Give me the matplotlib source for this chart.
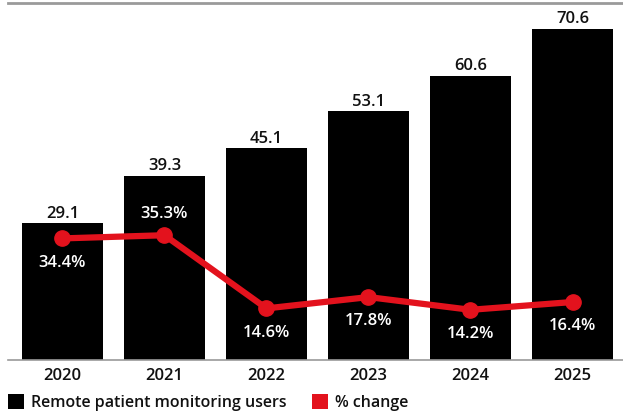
import matplotlib
matplotlib.use("Agg")
import matplotlib.pyplot as plt
from matplotlib.patches import Patch

years = ["2020", "2021", "2022", "2023", "2024", "2025"]
users = [29.1, 39.3, 45.1, 53.1, 60.6, 70.6]
pct_change = [34.4, 35.3, 14.6, 17.8, 14.2, 16.4]
pct_labels = ["34.4%", "35.3%", "14.6%", "17.8%", "14.2%", "16.4%"]
label_above = [False, True, False, False, False, False]

RED = "#e3121d"
plt.rcParams['font.family'] = ['Open Sans', 'DejaVu Sans']

W, H = 623, 419
fig = plt.figure(figsize=(W / 100, H / 100), dpi=100)
ax = fig.add_axes([8 / W, (H - 360) / H, 615 / W, 357 / H])

x = list(range(len(years)))
ax.bar(x, users, width=0.8, color="black", zorder=2)
ax.set_xlim(-0.534, 5.495)
ax.set_ylim(0, 76.1)

for xi, v in zip(x, users):
    ax.annotate(f"{v}", (xi, v), xytext=(0, 1), textcoords="offset points",
                ha="center", va="bottom", fontsize=12, fontweight="semibold", color="#111111")

for s in ["left", "right"]:
    ax.spines[s].set_visible(False)
ax.spines["bottom"].set_color("#9a9a9a")
ax.spines["bottom"].set_linewidth(1.2)
ax.spines["top"].set_color("#9a9a9a")
ax.spines["top"].set_linewidth(2)
ax.set_yticks([])
ax.set_xticks(x)
ax.set_xticklabels(years, fontsize=12, fontweight="semibold", color="#111111")
ax.tick_params(axis="x", length=0, pad=6)

ax2 = ax.twinx()
ax2.set_ylim(0, 101)
ax2.set_yticks([])
for s in ax2.spines.values():
    s.set_visible(False)
ax2.plot(x, pct_change, color=RED, linewidth=4.5, marker="o", markersize=11,
         solid_capstyle="round", zorder=3)
for xi, v, lab, above in zip(x, pct_change, pct_labels, label_above):
    off = 15.5 if above else -17.5
    ax2.annotate(lab, (xi, v), xytext=(0, off), textcoords="offset points",
                 ha="center", va="center", fontsize=12, fontweight="semibold", color="white")

handles = [Patch(facecolor="black", edgecolor="none"), Patch(facecolor=RED, edgecolor="none")]
leg = fig.legend(handles, ["Remote patient monitoring users", "% change"],
                 loc="lower left", bbox_to_anchor=(0.0, 0.0), ncol=2, frameon=False,
                 handlelength=1.0, handleheight=1.0, handletextpad=0.45, columnspacing=1.6,
                 prop={"size": 11.5, "weight": "semibold"}, borderaxespad=0.1)
for t in leg.get_texts():
    t.set_color("#111111")

fig.savefig("out.png", dpi=100)
